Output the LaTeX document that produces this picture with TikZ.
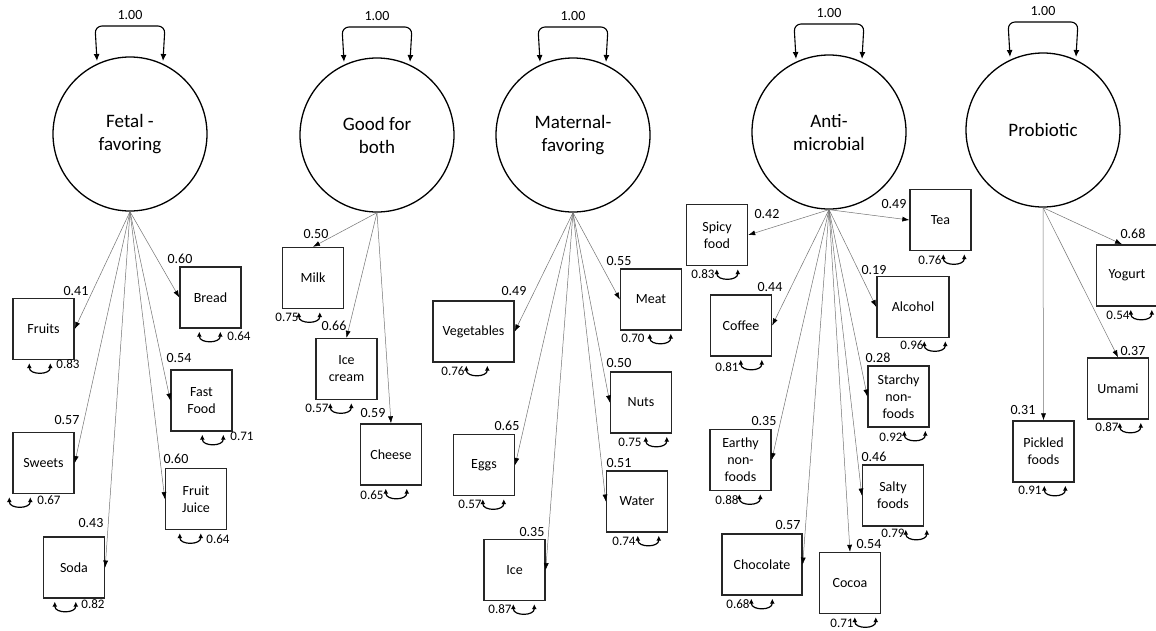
\documentclass[tikz,border=0pt]{standalone}
\usepackage{fontspec}
\setmainfont{Carlito}
\usetikzlibrary{arrows.meta,calc}
\newcommand\myresloop[2]{\draw[resl] ($(#1.south west)+(#2,3)$) .. controls +(0,12) and +(0,12) .. ($(#1.south west)+(#2+21,3)$);}
\begin{document}
\begin{tikzpicture}[x=1pt,y=-1pt,
  latent/.style={circle,draw=black,line width=1.3pt,minimum size=154pt,inner sep=0pt,align=center,font=\fontsize{19}{23}\selectfont},
  obs/.style={draw=black!85,line width=1.4pt,minimum width=61pt,minimum height=61pt,inner sep=0pt,align=center,font=\fontsize{14}{17}\selectfont},
  load/.style={-{Latex[length=7pt,width=5pt,color=black]},draw=black!55,line width=0.5pt},
  varl/.style={{Latex[length=7pt,width=6pt]}-{Latex[length=7pt,width=6pt]},draw=black,line width=1.1pt,rounded corners=7pt},
  resl/.style={{Latex[length=5pt,width=5pt]}-{Latex[length=5pt,width=5pt]},draw=black,line width=1.2pt},
  lab/.style={inner sep=0pt,font=\fontsize{14}{16}\selectfont},
  rlab/.style={inner sep=0pt,font=\fontsize{13}{15}\selectfont}]
\fill[white] (0,0) rectangle (1156,630);
\useasboundingbox (0,0) rectangle (1156,630);

% latent variables
\node[latent] (F) at (130,134) {Fetal -\\favoring};
\node[latent] (G) at (377,135) {Good for\\both};
\node[latent] (M) at (573,135) {Maternal-\\favoring};
\node[latent] (A) at (829,132) {Anti-\\microbial};
\node[latent] (P) at (1043,130) {Probiotic};

\foreach \n in {F,G,M,A,P}{
  \draw[varl] ($(\n.center)+(-33,-73)$) -- ($(\n.center)+(-35,-108)$) -- ($(\n.center)+(35,-108)$) -- ($(\n.center)+(33,-73)$);
  \node[lab] (\n var) at ($(\n.center)+(0,-119)$) {1.00};
}

% observed variables
\node[obs] (fruits) at (43.5,329) {Fruits};
\node[obs] (bread) at (210.5,297.5) {Bread};
\node[obs] (fastfood) at (201.5,400.5) {Fast\\Food};
\node[obs] (sweets) at (43.5,463) {Sweets};
\node[obs] (juice) at (196,499) {Fruit\\Juice};
\node[obs] (soda) at (74,567.5) {Soda};

\node[obs] (milk) at (313,278) {Milk};
\node[obs] (icecream) at (346.5,369) {Ice\\cream};
\node[obs] (cheese) at (391,454.5) {Cheese};

\node[obs,minimum width=81pt] (veg) at (473.5,331.5) {Vegetables};
\node[obs] (meat) at (651,299.5) {Meat};
\node[obs] (nuts) at (641,402.5) {Nuts};
\node[obs] (eggs) at (484,465) {Eggs};
\node[obs] (water) at (637,501.5) {Water};
\node[obs] (ice) at (514.5,570) {Ice};

\node[obs] (spicy) at (717,235) {Spicy\\food};
\node[obs] (tea) at (940.5,220) {Tea};
\node[obs] (coffee) at (741,325.5) {Coffee};
\node[obs,minimum width=72pt] (alcohol) at (913,307) {Alcohol};
\node[obs] (starchy) at (898.5,396.5) {Starchy\\non-\\foods};
\node[obs] (earthy) at (740.5,460) {Earthy\\non-\\foods};
\node[obs] (salty) at (893,495.5) {Salty\\foods};
\node[obs,minimum width=80pt] (choc) at (762,564.5) {Chocolate};
\node[obs] (cocoa) at (850,583) {Cocoa};

\node[obs] (yogurt) at (1127,275.5) {Yogurt};
\node[obs] (umami) at (1118,388.5) {Umami};
\node[obs] (pickled) at (1043.5,451.5) {Pickled\\foods};

% loadings
\draw[load] (F.south) -- (fruits.east);
\draw[load] (F.south) -- (bread.west);
\draw[load] (F.south) -- (fastfood.west);
\draw[load] (F.south) -- (sweets.east);
\draw[load] (F.south) -- (juice.west);
\draw[load] (F.south) -- (soda.east);

\draw[load] (G.south) -- (milk.north);
\draw[load] (G.south) -- (icecream.north);
\draw[load] (G.south) -- (cheese.north);

\draw[load] (M.south) -- (veg.east);
\draw[load] (M.south) -- (meat.west);
\draw[load] (M.south) -- (nuts.west);
\draw[load] (M.south) -- (eggs.east);
\draw[load] (M.south) -- (water.west);
\draw[load] (M.south) -- (ice.east);

\draw[load] (A.south) -- (spicy.east);
\draw[load] (A.south) -- (tea.west);
\draw[load] (A.south) -- (coffee.east);
\draw[load] (A.south) -- (alcohol.west);
\draw[load] (A.south) -- (starchy.west);
\draw[load] (A.south) -- (earthy.east);
\draw[load] (A.south) -- (salty.west);
\draw[load] (A.south) -- (choc.east);
\draw[load] (A.south) -- (cocoa.north);

\draw[load] (P.south) -- ($(yogurt.north)+(-5,0)$);
\draw[load] (P.south) -- (umami.north);
\draw[load] (P.south) -- (pickled.north);

% loading labels
\node[lab] (l1) at (76,291) {0.41};
\node[lab] (l2) at (180,259) {0.60};
\node[lab] (l3) at (179,358) {0.54};
\node[lab] (l4) at (67,420) {0.57};
\node[lab] (l5) at (176,459) {0.60};
\node[lab] (l6) at (91,523) {0.43};
\node[lab] (l7) at (316,234) {0.50};
\node[lab] (l8) at (334,326) {0.66};
\node[lab] (l9) at (373,413) {0.59};
\node[lab] (l10) at (514,291) {0.49};
\node[lab] (l11) at (619,261) {0.55};
\node[lab] (l12) at (619,363) {0.50};
\node[lab] (l13) at (507,426) {0.65};
\node[lab] (l14) at (619,463) {0.51};
\node[lab] (l15) at (532,532) {0.35};
\node[lab] (l16) at (767,214) {0.42};
\node[lab] (l17) at (894,204) {0.49};
\node[lab] (l18) at (770,287) {0.44};
\node[lab] (l19) at (874,270) {0.19};
\node[lab] (l20) at (878,358) {0.28};
\node[lab] (l21) at (764,421) {0.35};
\node[lab] (l22) at (874,457) {0.46};
\node[lab] (l23) at (788,525) {0.57};
\node[lab] (l24) at (869,544) {0.54};
\node[lab] (l25) at (1133,234) {0.68};
\node[lab] (l26) at (1133,351) {0.37};
\node[lab] (l27) at (1023,410) {0.31};

% residual loops
\myresloop{fruits}{17}
\myresloop{bread}{20}
\myresloop{fastfood}{32}
\myresloop{sweets}{-3}
\myresloop{juice}{15}
\myresloop{soda}{12}
\myresloop{milk}{17}
\myresloop{icecream}{15}
\myresloop{cheese}{26}
\myresloop{veg}{34}
\myresloop{meat}{30}
\myresloop{nuts}{36}
\myresloop{eggs}{30}
\myresloop{water}{32}
\myresloop{ice}{30}
\myresloop{spicy}{31}
\myresloop{tea}{34}
\myresloop{coffee}{31}
\myresloop{alcohol}{48}
\myresloop{starchy}{37}
\myresloop{earthy}{30}
\myresloop{salty}{44}
\myresloop{choc}{30}
\myresloop{cocoa}{36}
\myresloop{yogurt}{35}
\myresloop{umami}{33}
\myresloop{pickled}{32}

% residual labels
\node[rlab] (r1) at (68,364) {0.83};
\node[rlab] (r2) at (239,336) {0.64};
\node[rlab] (r3) at (242,436) {0.71};
\node[rlab] (r4) at (49,500) {0.67};
\node[rlab] (r5) at (218,539) {0.64};
\node[rlab] (r6) at (93,604) {0.82};
\node[rlab] (r7) at (287,317) {0.75};
\node[rlab] (r8) at (317,408) {0.57};
\node[rlab] (r9) at (372,495) {0.65};
\node[rlab] (r10) at (453,371) {0.76};
\node[rlab] (r11) at (633,338) {0.70};
\node[rlab] (r12) at (630,442) {0.75};
\node[rlab] (r13) at (470,504) {0.57};
\node[rlab] (r14) at (624,541) {0.74};
\node[rlab] (r15) at (500,609) {0.87};
\node[rlab] (r16) at (703,274) {0.83};
\node[rlab] (r17) at (930,260) {0.76};
\node[rlab] (r18) at (727,367) {0.81};
\node[rlab] (r19) at (912,345) {0.96};
\node[rlab] (r20) at (891,437) {0.92};
\node[rlab] (r21) at (727,500) {0.88};
\node[rlab] (r22) at (893,533) {0.79};
\node[rlab] (r23) at (738,604) {0.68};
\node[rlab] (r24) at (842,623) {0.71};
\node[rlab] (r25) at (1118,315) {0.54};
\node[rlab] (r26) at (1107,427) {0.87};
\node[rlab] (r27) at (1030,490) {0.91};
\end{tikzpicture}
\end{document}
